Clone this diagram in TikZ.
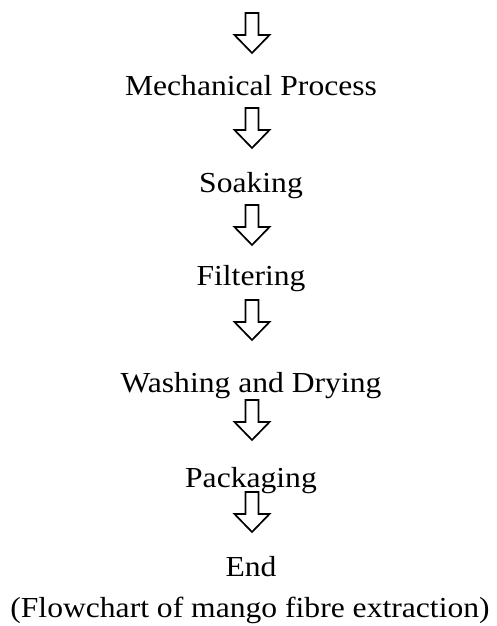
\documentclass[tikz,border=0pt]{standalone}
\usepackage{fontspec}
\setmainfont{Liberation Serif}[FakeStretch=1.09]
\usepackage{tikz}
\usetikzlibrary{calc}

\tikzset{
  steptext/.style={inner sep=0pt, anchor=base, font=\fontsize{29}{35}\selectfont},
  downarrow/.pic={
    \draw[line width=1.7pt, line join=miter]
      (-6.5,0) -- (6.5,0) -- (6.5,22) -- (17.5,22) -- (0,40)
      -- (-17.5,22) -- (-6.5,22) -- cycle;
  }
}

\begin{document}
\begin{tikzpicture}[x=1pt, y=-1pt]
    \useasboundingbox (0,0) rectangle (496,626);
    % steps of the process
    \node[steptext] (mech)    at (251,95)  {Mechanical Process};
    \node[steptext] (soak)    at (251,192) {Soaking};
    \node[steptext] (filter)  at (251,285) {Filtering};
    \node[steptext] (wash)    at (251,392) {Washing and Drying};
    \node[steptext] (pack)    at (251,487) {Packaging};
    \node[steptext] (finish)  at (251,576) {End};
    \node[steptext] (caption) at (250,617) {(Flowchart of mango fibre extraction)};
    % hollow arrows between the steps
    \foreach \ytop in {13,108,205,300,400,492}
      \pic at (252,\ytop) {downarrow};
  \end{tikzpicture}
\end{document}
